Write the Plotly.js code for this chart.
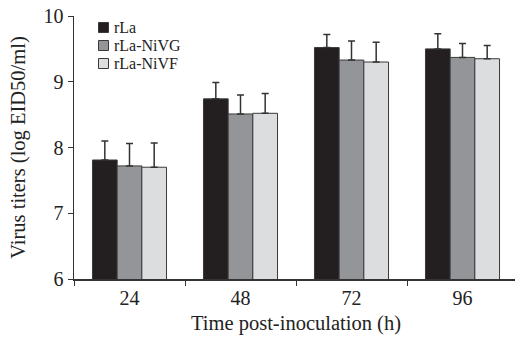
<!DOCTYPE html>
<html><head><meta charset="utf-8">
<script src="https://cdn.plot.ly/plotly-3.0.1.min.js"></script>
<style>html,body{margin:0;padding:0;overflow:hidden;background:#fff}</style>
</head><body>
<div id="chart"></div>
<script>
const categories = ['24', '48', '72', '96'];
const seriesNames = ['rLa', 'rLa-NiVG', 'rLa-NiVF'];
const rLa = [7.81, 8.74, 9.52, 9.50];
const rLaErr = [0.29, 0.25, 0.20, 0.23];
const rLaNiVG = [7.72, 8.51, 9.33, 9.37];
const rLaNiVGErr = [0.34, 0.29, 0.29, 0.21];
const rLaNiVF = [7.70, 8.52, 9.30, 9.35];
const rLaNiVFErr = [0.37, 0.30, 0.30, 0.20];
const colors = ['#231f20', '#939598', '#dcdddf'];

const vals = [rLa, rLaNiVG, rLaNiVF];
const errs = [rLaErr, rLaNiVGErr, rLaNiVFErr];
const font = "'Liberation Serif', 'DejaVu Serif', serif";

const W = 518, H = 342, ML = 74, MR = 0, MT = 16, MB = 63;
const pw = W - ML - MR, ph = H - MT - MB;
const px2x = p => (p - ML) / pw;
const py2y = p => 1 - (p - MT) / ph;

const data = vals.map((v, i) => ({
  type: 'bar',
  name: seriesNames[i],
  x: categories,
  y: v,
  marker: {color: colors[i], line: {color: '#3a3a3a', width: 1}},
  error_y: {type: 'data', symmetric: false, array: errs[i], arrayminus: v.map(() => 0),
            color: '#333', thickness: 1.5, width: 3.5}
}));

// custom legend (squares + text)
const shapes = [], annotations = [];
seriesNames.forEach((name, i) => {
  const cy = 27.5 + i * 18;
  shapes.push({type: 'rect', xref: 'paper', yref: 'paper',
    x0: px2x(98.5), x1: px2x(108.5), y0: py2y(cy + 5), y1: py2y(cy - 5),
    fillcolor: colors[i], line: {color: '#3a3a3a', width: 1}});
  annotations.push({xref: 'paper', yref: 'paper', x: px2x(112), y: py2y(cy),
    xanchor: 'left', yanchor: 'middle', text: name, showarrow: false,
    font: {size: 16, family: font, color: '#222'}});
});

const layout = {
  width: W, height: H,
  margin: {l: ML, r: MR, t: MT, b: MB},
  paper_bgcolor: '#fff', plot_bgcolor: '#fff',
  font: {family: font, color: '#222'},
  barmode: 'group',
  bargap: 0.333, bargroupgap: 0,
  showlegend: false,
  shapes: shapes,
  annotations: annotations,
  xaxis: {
    type: 'category', tickson: 'boundaries', ticks: 'outside', ticklen: 5, tickcolor: '#333',
    showline: true, linecolor: '#333', linewidth: 1.5, showgrid: false, zeroline: false,
    tickfont: {size: 20, family: font},
    title: {text: 'Time post-inoculation (h)', font: {size: 20.5, family: font}, standoff: 8}
  },
  yaxis: {
    range: [6, 10], tickvals: [6, 7, 8, 9, 10], ticks: 'outside', ticklen: 5, tickcolor: '#333',
    showline: true, linecolor: '#333', linewidth: 1.5, showgrid: false, zeroline: false,
    tickfont: {size: 20, family: font},
    title: {text: 'Virus titers (log EID50/ml)', font: {size: 20.5, family: font}, standoff: 12}
  }
};

Plotly.newPlot('chart', data, layout, {displayModeBar: false, staticPlot: true});
</script>
</body></html>
